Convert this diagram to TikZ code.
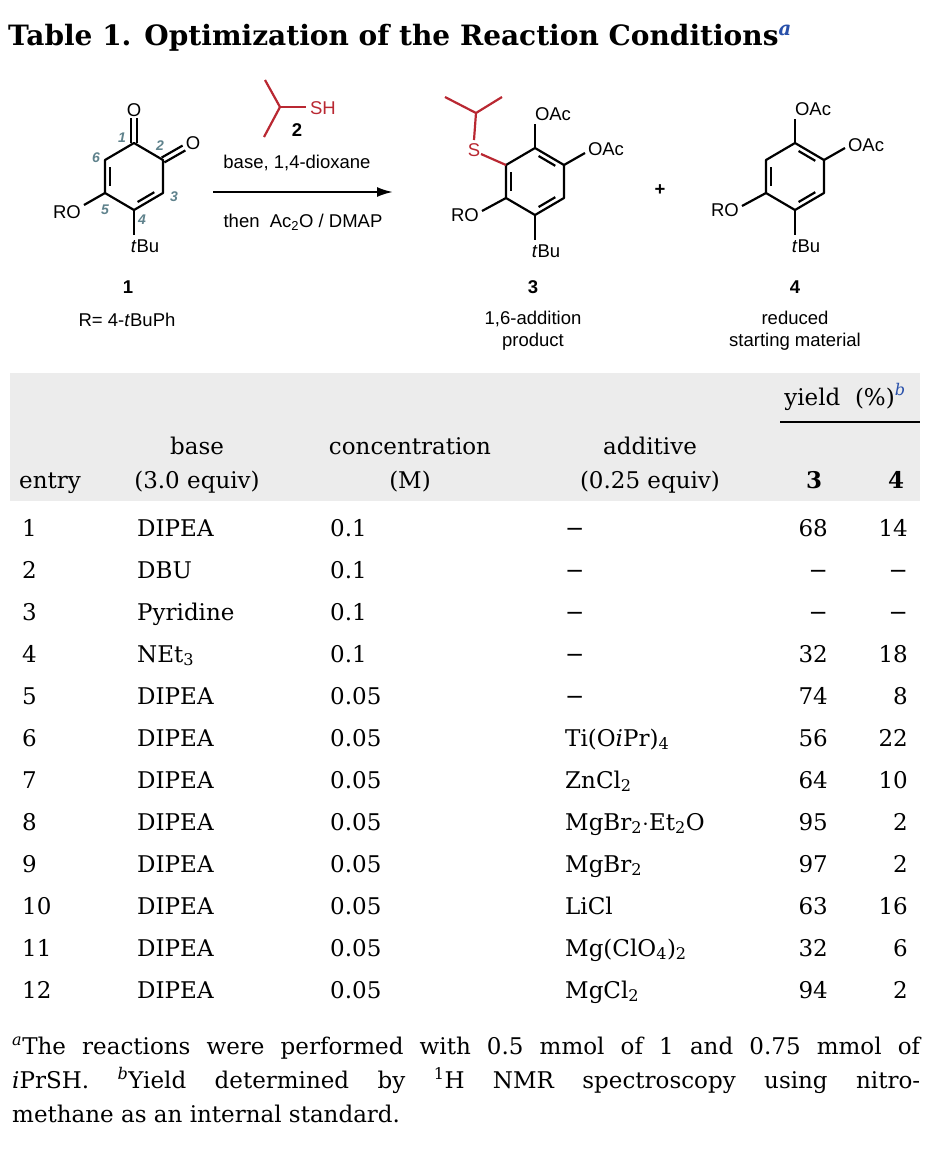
\documentclass[tikz,border=0pt]{standalone}
\usepackage{fontspec}
\setmainfont{DejaVu Serif}
\newfontfamily\arialf{Liberation Sans}
\usetikzlibrary{calc,arrows.meta}
\definecolor{chemred}{RGB}{185,40,50}
\definecolor{numteal}{RGB}{95,130,140}
\definecolor{supblue}{RGB}{40,80,170}
\definecolor{hdrgray}{RGB}{236,236,236}
\newcommand{\innerbond}[3]{%
  \path ($(#1)!.15!(#2)$) coordinate (t1) ($(#2)!.15!(#1)$) coordinate (t2);
  \draw ($(t1)!5.5pt!(#3)$) -- ($(t2)!5.5pt!(#3)$);}
\newcommand{\mkring}[2]{% center x,y
  \coordinate (ra) at (#1,#2-33.5);
  \coordinate (rb) at (#1+29,#2-16.5);
  \coordinate (rc) at (#1+29,#2+16.5);
  \coordinate (rd) at (#1,#2+33.5);
  \coordinate (re) at (#1-29,#2+16.5);
  \coordinate (rf) at (#1-29,#2-16.5);
  \coordinate (rcen) at (#1,#2);
  \draw[bond] (ra)--(rb)--(rc)--(rd)--(re)--(rf)--cycle;}
\newcommand{\mdash}{\char"2212}
\begin{document}
\begin{tikzpicture}[x=1pt,y=-1pt,
  bond/.style={line width=2.2pt,line join=round},
  chem/.style={font=\arialf\fontsize{18.5}{20}\selectfont,inner sep=0pt},
  chemb/.style={chem,font=\arialf\bfseries\fontsize{18.5}{20}\selectfont},
  num/.style={font=\arialf\itshape\bfseries\fontsize{14}{15}\selectfont,text=numteal,inner sep=0pt},
  tb/.style={font=\fontsize{23}{26}\selectfont,inner sep=0pt},
  tbl/.style={tb,anchor=base west},
  tbr/.style={tb,anchor=base east},
  tbc/.style={tb,anchor=base}]
\useasboundingbox (0,0) rectangle (938,1160);
% title
\node[anchor=base west,inner sep=0pt,font=\bfseries\fontsize{28}{30}\selectfont] (title) at (8,45)
  {Table 1. Optimization of the Reaction Conditions\textsuperscript{\textcolor{supblue}{\itshape a}}};
% ---- molecule 1
\begin{scope}[every path/.style={bond}]
\coordinate (c1) at (134,143); \coordinate (c2) at (163,160); \coordinate (c3) at (163,193);
\coordinate (c4) at (134,210); \coordinate (c5) at (105,193); \coordinate (c6) at (105,160);
\coordinate (m1cen) at (134,176.5);
\draw (c1)--(c2)--(c3)--(c4)--(c5)--(c6)--cycle;
\innerbond{c5}{c6}{m1cen}
\innerbond{c3}{c4}{m1cen}
\node[chem] (o1) at (134,110) {O};
\node[chem] (o2) at (193,143) {O};
\draw ($(c1)!2.8pt!90:(o1)$) -- ($(o1.south)!2.8pt!-90:(c1)$);
\draw ($(c1)!2.8pt!-90:(o1)$) -- ($(o1.south)!2.8pt!90:(c1)$);
\coordinate (o2e) at (184,148);
\draw ($(c2)!2.8pt!90:(o2e)$) -- ($(o2e)!2.8pt!-90:(c2)$);
\draw ($(c2)!2.8pt!-90:(o2e)$) -- ($(o2e)!2.8pt!90:(c2)$);
\node[chem] (ro1) at (67,212) {RO};
\draw (c5) -- (84,205);
\node[chem] (tbu1) at (145,246) {\textit{t}Bu};
\draw (c4) -- (134,235);
\end{scope}
\node[num] at (122,138) {1};
\node[num] at (160,146) {2};
\node[num] at (174,197) {3};
\node[num] at (142,220) {4};
\node[num] at (105,210) {5};
\node[num] at (96,158) {6};
\node[chemb] (l1) at (128,287) {1};
\node[chem] (r1) at (127,320) {R= 4-\textit{t}BuPh};
% ---- reagent 2 and arrow
\draw[bond,chemred] (265,80) -- (280,107) coordinate (ip) -- (264,137);
\draw[bond,chemred] (ip) -- (306,107);
\node[chem,text=chemred] (sh) at (323,108) {SH};
\node[chemb] (l2) at (297,130) {2};
\node[chem] (cond1) at (297,163) {base, 1,4-dioxane};
\coordinate (arS) at (213,192); \coordinate (arE) at (393,192);
\draw[line width=2.2pt,-{Latex[length=16pt,width=10pt]}] (arS) -- (arE);
\node[chem] (cond2) at (303,222) {then\ \ Ac\textsubscript{2}O / DMAP};
% ---- molecule 3
\begin{scope}[every path/.style={bond}]
\mkring{535}{181.5}
\innerbond{re}{rf}{rcen}
\innerbond{ra}{rb}{rcen}
\innerbond{rc}{rd}{rcen}
\draw (ra) -- (535,124);
\node[chem] (oac3a) at (553,114) {OAc};
\draw (rb) -- (585,153);
\node[chem] (oac3b) at (606,149) {OAc};
\draw (re) -- (482,211);
\node[chem] (ro3) at (465,215) {RO};
\draw (rd) -- (535,240);
\node[chem] (tbu3) at (546,251) {\textit{t}Bu};
\draw[chemred] (rf) -- (481,154);
\node[chem,text=chemred] (s3) at (474,150) {S};
\draw[chemred] (474,140) -- (476,113) coordinate (ip3) -- (445,97);
\draw[chemred] (ip3) -- (502,97);
\end{scope}
\node[chemb] (l3) at (533,287) {3};
\node[chem,align=center,font=\arialf\fontsize{18.5}{22}\selectfont] (t3) at (533,331) {1,6-addition\\product};
\node[chemb] (plus) at (660,190) {+};
% ---- molecule 4
\begin{scope}[every path/.style={bond}]
\mkring{795}{176.5}
\innerbond{re}{rf}{rcen}
\innerbond{ra}{rb}{rcen}
\innerbond{rc}{rd}{rcen}
\draw (ra) -- (795,119);
\node[chem] (oac4a) at (813,109) {OAc};
\draw (rb) -- (845,148);
\node[chem] (oac4b) at (866,145) {OAc};
\draw (re) -- (742,206);
\node[chem] (ro4) at (725,210) {RO};
\draw (rd) -- (795,235);
\node[chem] (tbu4) at (806,246) {\textit{t}Bu};
\end{scope}
\node[chemb] (l4) at (795,287) {4};
\node[chem,align=center,font=\arialf\fontsize{18.5}{22}\selectfont] (t4) at (795,331) {reduced\\starting material};
% ---- table header
\fill[hdrgray] (10,373) rectangle (920,501);
\node[tbc] (hy) at (845,405) {yield\ \ (\%)\textsuperscript{\textcolor{supblue}{\itshape b}}};
\draw[line width=2.4pt] (780,422) -- (920,422);
\node[tbc] (hbase) at (197,454) {base};
\node[tbc] (hbase2) at (197,488) {(3.0 equiv)};
\node[tbc] (hconc) at (410,454) {concentration};
\node[tbc] (hconc2) at (410,488) {(M)};
\node[tbc] (hadd) at (650,454) {additive};
\node[tbc] (hadd2) at (650,488) {(0.25 equiv)};
\node[tbc] (hentry) at (50,488) {entry};
\node[tbc,font=\bfseries\fontsize{23}{26}\selectfont] (h3) at (814,488) {3};
\node[tbc,font=\bfseries\fontsize{23}{26}\selectfont] (h4) at (896,488) {4};
% ---- rows
\foreach \i/\b/\c/\a/\y/\z in {
 1/DIPEA/0.1/\mdash/68/14,
 2/DBU/0.1/\mdash/\mdash/\mdash,
 3/Pyridine/0.1/\mdash/\mdash/\mdash,
 4/NEt\textsubscript{3}/0.1/\mdash/32/18,
 5/DIPEA/0.05/\mdash/74/8,
 6/DIPEA/0.05/Ti(O\textit{i}Pr)\textsubscript{4}/56/22,
 7/DIPEA/0.05/ZnCl\textsubscript{2}/64/10,
 8/DIPEA/0.05/MgBr\textsubscript{2}$\cdot$Et\textsubscript{2}O/95/2,
 9/DIPEA/0.05/MgBr\textsubscript{2}/97/2,
 10/DIPEA/0.05/LiCl/63/16,
 11/DIPEA/0.05/Mg(ClO\textsubscript{4})\textsubscript{2}/32/6,
 12/DIPEA/0.05/MgCl\textsubscript{2}/94/2}{
  \pgfmathsetmacro{\yy}{536+42*(\i-1)}
  \node[tbl] (e\i) at (22,\yy) {\i};
  \node[tbl] (b\i) at (137,\yy) {\b};
  \node[tbl] (c\i) at (330,\yy) {\c};
  \node[tbl] (a\i) at (565,\yy) {\a};
  \node[tbr] (y\i) at (828,\yy) {\y};
  \node[tbr] (z\i) at (908,\yy) {\z};
}
% ---- footnote
\node[anchor=north west,inner sep=0pt,text width=908pt,align=justify,
  font=\fontsize{23}{34}\selectfont] (foot) at (12,1037)
  {\textsuperscript{\itshape a}The reactions were performed with 0.5 mmol of 1 and 0.75 mmol of\linebreak \textit{i}PrSH. \textsuperscript{\itshape b}Yield determined by \textsuperscript{1}H NMR spectroscopy using nitro-\linebreak methane as an internal standard.};
\end{tikzpicture}
\end{document}
